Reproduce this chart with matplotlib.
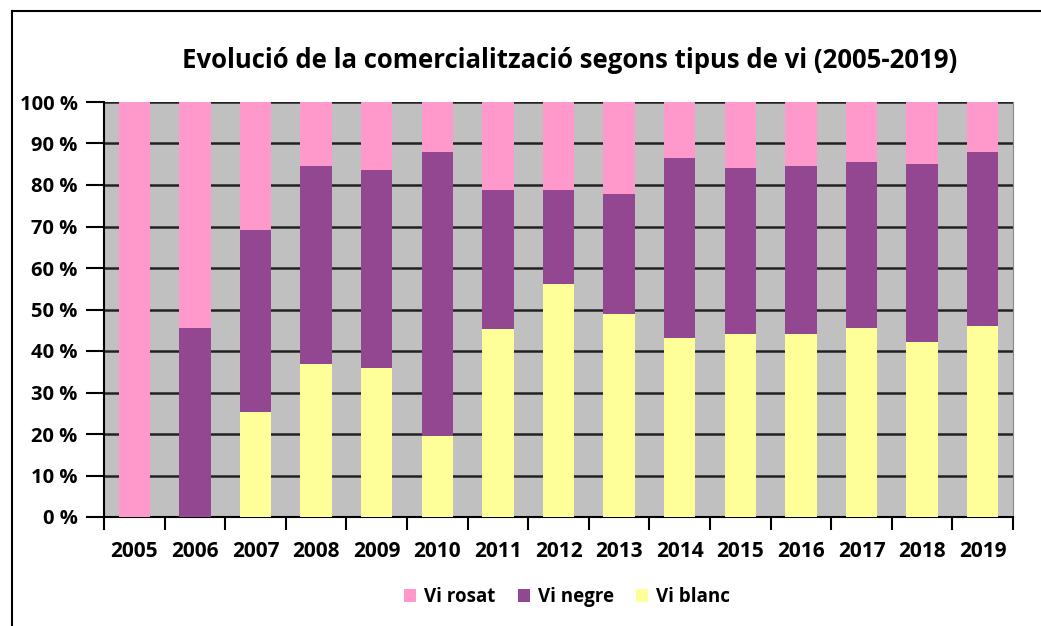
import numpy as np
import matplotlib.pyplot as plt
from matplotlib.lines import Line2D

years = ['2005', '2006', '2007', '2008', '2009', '2010', '2011', '2012',
         '2013', '2014', '2015', '2016', '2017', '2018', '2019']
# shares in %
vi_blanc = [0, 0, 25.4, 36.9, 36.0, 19.5, 45.2, 56.1, 48.9, 43.1, 44.1, 44.1, 45.5, 42.2, 46.0]
vi_negre = [0, 45.6, 43.8, 47.7, 47.6, 68.5, 33.6, 22.7, 28.9, 43.4, 39.9, 40.5, 40.1, 42.9, 42.0]
vi_rosat = [100, 54.4, 30.8, 15.4, 16.4, 12.0, 21.2, 21.2, 22.2, 13.5, 16.0, 15.4, 14.4, 14.9, 12.0]

plt.rcParams['font.family'] = ['Open Sans', 'DejaVu Sans']

fig = plt.figure(figsize=(10.41, 6.26), dpi=100)
ax = fig.add_axes([104 / 1041, 1 - 517 / 626, (1013 - 104) / 1041, (517 - 102) / 626])

x = np.arange(len(years))
w = 0.52
blanc = np.array(vi_blanc)
negre = np.array(vi_negre)
rosat = np.array(vi_rosat)
b1 = ax.bar(x, blanc, w, color='#FFFF99', zorder=3)
b2 = ax.bar(x, negre, w, bottom=blanc, color='#934791', zorder=3)
b3 = ax.bar(x, rosat, w, bottom=blanc + negre, color='#FF99CC', zorder=3)

ax.set_facecolor('#C0C0C0')
ax.set_xlim(-0.5, len(years) - 0.5)
ax.set_ylim(0, 100)
ax.set_yticks(np.arange(0, 101, 10))
ax.set_yticklabels([f'{v} %' for v in range(0, 101, 10)], fontsize=14.5, fontweight='bold')
ax.yaxis.grid(True, color='#222222', linewidth=1.8, zorder=1)
ax.set_axisbelow(True)

ax.set_xticks(np.arange(-0.5, len(years), 1))
ax.set_xticklabels([])
ax.set_xticks(x, minor=True)
ax.set_xticklabels(years, minor=True, fontsize=15, fontweight='bold')
ax.tick_params(axis='x', which='minor', length=0, pad=17)
ax.tick_params(axis='x', which='major', length=9, width=1.5, direction='out')
ax.tick_params(axis='y', length=13, width=1.5, direction='out', pad=6)

ax.spines['top'].set_visible(False)
ax.spines['left'].set_linewidth(1.5)
ax.spines['bottom'].set_linewidth(1.5)
ax.spines['right'].set_color('#888888')

fig.text(0.547, 1 - 61 / 626, 'Evolució de la comercialització segons tipus de vi (2005-2019)',
         ha='center', va='center', fontsize=18.5, fontweight='bold')

ax.legend([b3, b2, b1], ['Vi rosat', 'Vi negre', 'Vi blanc'], loc='center',
          bbox_to_anchor=((567 - 104) / 909, (517 - 597) / 415),
          ncol=3, frameon=False,
          handlelength=0.64, handleheight=0.64, columnspacing=1.2, handletextpad=0.43,
          prop={'weight': 'bold', 'size': 13.5})

# outer frame
fig.add_artist(Line2D([12 / 1041, 12 / 1041], [0, 1 - 11 / 626], color='black', lw=1.5,
                      transform=fig.transFigure))
fig.add_artist(Line2D([12 / 1041, 1], [1 - 11 / 626, 1 - 11 / 626], color='black', lw=1.5,
                      transform=fig.transFigure))

fig.savefig('out.png', dpi=100)
